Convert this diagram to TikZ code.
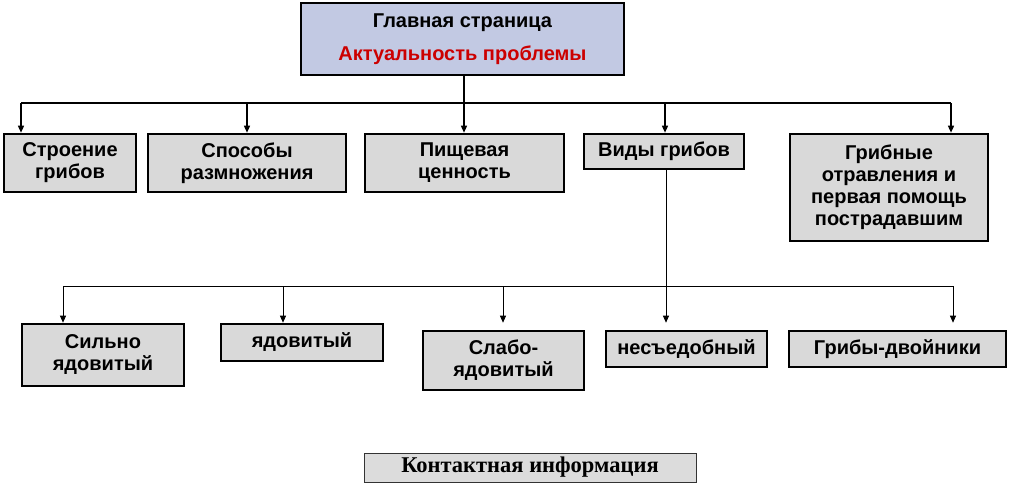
\documentclass[tikz,border=0pt]{standalone}
\usepackage{fontspec}
\setmainfont{Liberation Sans}
\newfontfamily\serifcontact{Liberation Serif}
\usetikzlibrary{arrows.meta}
\definecolor{boxgray}{RGB}{217,217,217}
\definecolor{topblue}{RGB}{194,201,227}
\definecolor{topred}{RGB}{204,0,0}
\definecolor{contactgray}{RGB}{220,220,220}
\begin{document}
\begin{tikzpicture}[x=1pt,y=-1pt,
  box/.style={draw=black, line width=2.6pt, fill=boxgray, inner sep=0pt, align=center,
    font=\fontsize{20}{22}\selectfont\bfseries},
  topbox/.style={box, fill=topblue},
  contactbox/.style={draw=black!80, line width=0.9pt, fill=contactgray, inner sep=0pt,
    font=\serifcontact\fontsize{22.5}{24}\selectfont\bfseries},
  bus/.style={line width=1.4pt},
  arr/.style={line width=1.4pt, -{Triangle[length=7pt,width=6pt]}},
  bus2/.style={line width=0.9pt},
  arr2/.style={line width=0.9pt, -{Triangle[length=7pt,width=6pt]}}
]
\useasboundingbox (0,0) rectangle (1010,491);
\newcommand{\mybox}[7]{% style, name, left, top, right, bottom, text
  \node[#1, minimum width={#5-#3}, minimum height={#6-#4}] (#2) at ({(#3+#5)/2},{(#4+#6)/2}) {#7};}

\mybox{topbox}{main}{301}{3}{624}{75}{Главная страница\\[11pt]\textcolor{topred}{Актуальность проблемы}}
\mybox{box}{stro}{4}{134}{136}{192}{Строение\\грибов}
\mybox{box}{spos}{148}{134}{346}{192}{Способы\\размножения}
\mybox{box}{pish}{365}{134}{564}{192}{Пищевая\\ценность}
\mybox{box}{vidy}{584}{134}{744}{169}{Виды грибов}
\mybox{box}{grib}{790}{134}{988}{241}{Грибные\\отравления и\\первая помощь\\пострадавшим}
\mybox{box}{silno}{22}{324}{184}{386}{Сильно\\ядовитый}
\mybox{box}{yad}{221}{324}{383}{361}{ядовитый}
\mybox{box}{slabo}{423}{331}{584}{390}{Слабо-\\ядовитый}
\mybox{box}{nes}{606}{331}{767}{367}{несъедобный}
\mybox{box}{dvoi}{789}{331}{1006}{367}{Грибы-двойники}
\mybox{contactbox}{contact}{364}{453}{696}{482}{Контактная информация}

% upper bus
\coordinate (u1) at (21,103);
\coordinate (u2) at (247,103);
\coordinate (u3) at (464,103);
\coordinate (u4) at (665,103);
\coordinate (u5) at (951,103);
\draw[bus] (main.south -| u3) -- (u3);
\draw[bus] (u1) -- (u5);
\draw[arr] (u1) -- (u1 |- stro.north);
\draw[arr] (u2) -- (u2 |- spos.north);
\draw[arr] (u3) -- (u3 |- pish.north);
\draw[arr] (u4) -- (u4 |- vidy.north);
\draw[arr] (u5) -- (u5 |- grib.north);

% lower bus
\coordinate (l1) at (63,286);
\coordinate (l2) at (283,286);
\coordinate (l3) at (503,286);
\coordinate (l4) at (666,286);
\coordinate (l5) at (953,286);
\draw[bus2] (vidy.south -| l4) -- (l4);
\draw[bus2] (l1) -- (l5);
\draw[arr2] (l1) -- (l1 |- silno.north);
\draw[arr2] (l2) -- (l2 |- yad.north);
\draw[arr2, shorten >=7pt] (l3) -- (l3 |- slabo.north);
\draw[arr2, shorten >=7pt] (l4) -- (l4 |- nes.north);
\draw[arr2, shorten >=7pt] (l5) -- (l5 |- dvoi.north);
\end{tikzpicture}
\end{document}
